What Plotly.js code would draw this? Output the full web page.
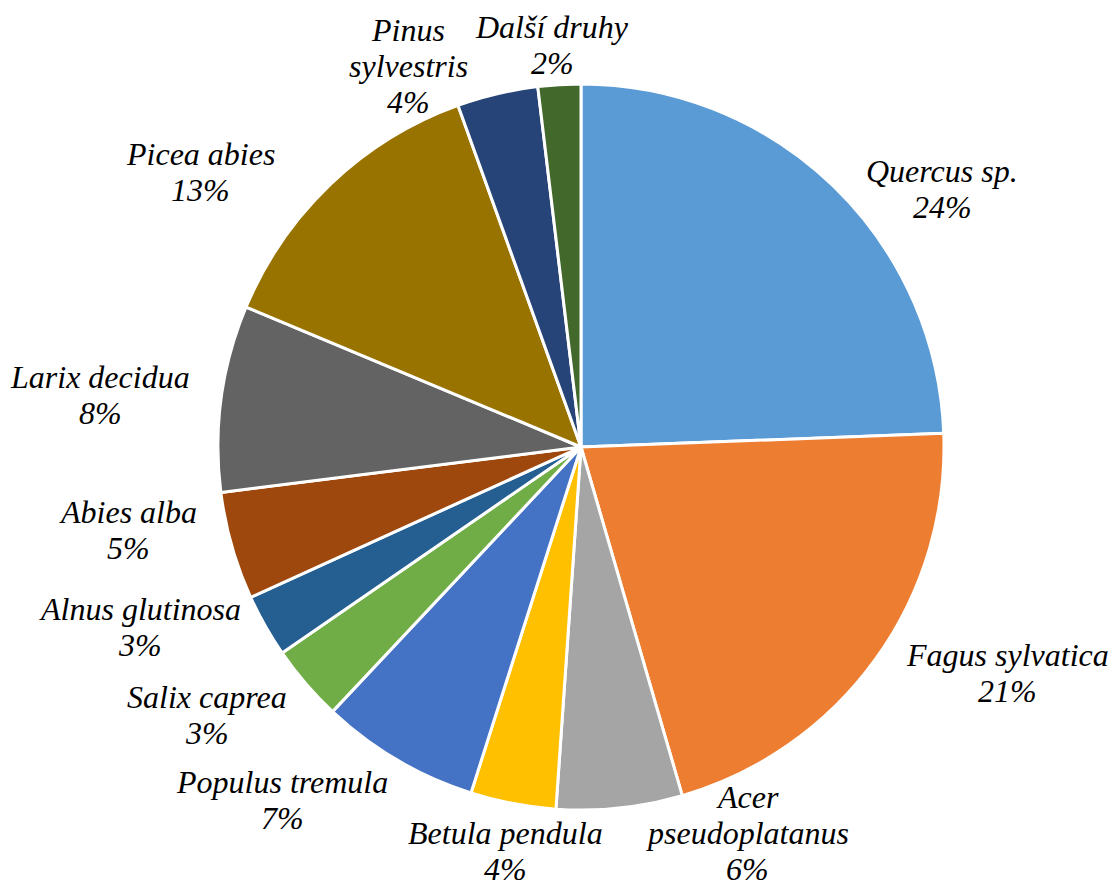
<!DOCTYPE html>
<html>
<head>
<meta charset="utf-8">
<script src="https://cdn.plot.ly/plotly-3.0.1.min.js"></script>
<style>
html,body{margin:0;padding:0;background:#fff;}
#chart{width:1115px;height:888px;}
</style>
</head>
<body>
<div id="chart"></div>
<script>
// Data
var species = ['Quercus sp.', 'Fagus sylvatica', 'Acer<br>pseudoplatanus', 'Betula pendula', 'Populus tremula', 'Salix caprea', 'Alnus glutinosa', 'Abies alba', 'Larix decidua', 'Picea abies', 'Pinus<br>sylvestris', 'Další druhy'];
var shares = [24.4, 21.1, 5.6, 3.8, 7.1, 3.4, 2.8, 4.8, 8.3, 13.2, 3.6, 1.9];
var colors = ['#5B9BD5', '#ED7D31', '#A5A5A5', '#FFC000', '#4472C4', '#70AD47', '#255E91', '#9E480E', '#636363', '#997300', '#264478', '#43682B'];

// Label placement (pixel centres of each label block), layout only
var labelX = [942, 1007, 747, 505, 282, 207, 140, 128, 100, 200, 408, 552];
var labelY = [189, 673, 833, 851, 800, 715, 627, 530, 395, 172, 66, 45];
var lineStep = 36;

var W = 1115, H = 888;
var total = shares.reduce(function(a, b) { return a + b; }, 0);

var trace = {
  type: 'pie',
  labels: species.map(function(s) { return s.replace('<br>', ' '); }),
  values: shares,
  sort: false,
  direction: 'clockwise',
  rotation: 0,
  marker: {colors: colors, line: {color: '#ffffff', width: 3}},
  textinfo: 'none',
  hoverinfo: 'label+percent',
  domain: {x: [218 / W, 944 / W], y: [1 - 810 / H, 1 - 84 / H]},
  showlegend: false
};

var annotations = [];
species.forEach(function(name, i) {
  var pct = Math.round(shares[i] / total * 100) + '%';
  var lines = name.split('<br>').concat([pct]);
  var n = lines.length;
  lines.forEach(function(t, j) {
    var ypx = labelY[i] + (j - (n - 1) / 2) * lineStep;
    annotations.push({
      xref: 'paper', yref: 'paper',
      x: labelX[i] / W, y: 1 - ypx / H,
      xanchor: 'center', yanchor: 'middle',
      text: t, showarrow: false,
      font: {family: 'Liberation Serif', size: 32, color: '#000000', style: 'italic'}
    });
  });
});

var layout = {
  width: W,
  height: H,
  margin: {l: 0, r: 0, t: 0, b: 0},
  paper_bgcolor: '#ffffff',
  plot_bgcolor: '#ffffff',
  showlegend: false,
  annotations: annotations
};

Plotly.newPlot('chart', [trace], layout, {displayModeBar: false, staticPlot: true});
</script>
</body>
</html>
